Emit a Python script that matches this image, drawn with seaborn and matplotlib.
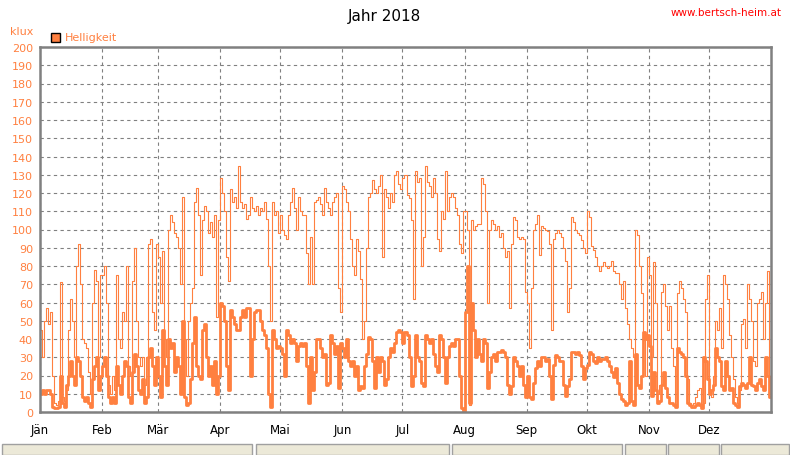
import numpy as np
import pandas as pd
import matplotlib
matplotlib.use("Agg")
import matplotlib.pyplot as plt
from matplotlib.patches import Rectangle
import seaborn as sns

# ---- data (klux), daily values ----
month_labels = ["Jän", "Feb", "Mär", "Apr", "Mai", "Jun", "Jul", "Aug", "Sep", "Okt", "Nov", "Dez"]
month_starts = [0, 31, 59, 90, 120, 151, 181, 212, 243, 273, 304, 334]

max_jan = [45, 30, 50, 57, 48, 55, 20, 5, 4, 6, 71, 8, 6, 12, 45, 62, 50, 30, 80, 92, 70, 40, 38, 35, 22, 10, 60, 78, 72, 30, 75]
max_feb = [75, 80, 60, 15, 10, 20, 12, 75, 40, 35, 55, 50, 80, 25, 20, 72, 90, 50, 30, 25, 30, 15, 30, 92, 95, 55, 45, 92]
max_mar = [85, 60, 88, 40, 30, 100, 108, 104, 98, 96, 90, 70, 118, 40, 20, 50, 60, 68, 115, 123, 108, 75, 105, 113, 110, 98, 104, 96, 108, 52, 105]
max_apr = [128, 120, 110, 85, 72, 122, 115, 118, 112, 135, 115, 112, 114, 106, 108, 118, 112, 110, 113, 108, 112, 110, 115, 106, 80, 50, 115, 108, 110, 98]
max_mai = [108, 100, 97, 95, 108, 115, 123, 112, 100, 118, 110, 108, 108, 87, 70, 96, 70, 115, 116, 118, 114, 108, 123, 115, 112, 108, 115, 118, 120, 68, 55]
max_jun = [124, 122, 115, 110, 95, 80, 75, 95, 88, 73, 40, 50, 90, 118, 120, 127, 122, 120, 124, 130, 85, 122, 118, 112, 120, 115, 130, 132, 125, 122]
max_jul = [128, 130, 119, 117, 105, 62, 132, 126, 128, 80, 96, 135, 126, 124, 118, 128, 120, 95, 88, 110, 106, 132, 110, 118, 120, 118, 112, 108, 92, 87, 110]
max_aug = [110, 100, 4, 105, 100, 102, 103, 103, 128, 125, 110, 60, 100, 105, 103, 100, 102, 96, 98, 90, 85, 88, 57, 92, 107, 105, 96, 95, 96, 95, 66]
max_sep = [60, 35, 68, 100, 103, 108, 86, 102, 101, 100, 99, 92, 45, 95, 98, 100, 98, 96, 90, 83, 55, 68, 107, 104, 100, 98, 97, 94, 90, 87]
max_okt = [110, 107, 91, 89, 85, 80, 77, 80, 82, 80, 79, 80, 83, 77, 76, 76, 70, 62, 72, 57, 48, 40, 35, 30, 100, 97, 80, 65, 44, 20, 85]
max_nov = [75, 30, 82, 60, 10, 15, 66, 70, 58, 45, 58, 35, 25, 4, 65, 72, 68, 62, 55, 18, 5, 4, 5, 8, 12, 13, 4, 5, 62, 75]
max_dez = [10, 8, 20, 50, 45, 57, 35, 75, 70, 62, 42, 30, 18, 8, 5, 12, 48, 51, 35, 70, 62, 50, 28, 25, 60, 62, 66, 40, 60, 77, 20]

avg_jan = [10, 12, 10, 12, 12, 10, 3, 2, 2, 3, 20, 5, 3, 15, 20, 28, 20, 15, 30, 28, 20, 8, 6, 8, 5, 3, 18, 25, 30, 12, 20]
avg_feb = [25, 30, 20, 8, 5, 8, 5, 25, 15, 10, 20, 28, 25, 8, 5, 22, 32, 25, 12, 10, 18, 5, 8, 30, 35, 25, 15, 30]
avg_mar = [20, 8, 45, 25, 15, 40, 35, 38, 22, 30, 25, 10, 50, 8, 4, 5, 18, 38, 52, 25, 20, 18, 45, 48, 30, 20, 25, 15, 28, 10, 20]
avg_apr = [60, 58, 50, 25, 12, 56, 52, 48, 45, 45, 52, 56, 52, 57, 57, 20, 40, 55, 56, 56, 50, 45, 42, 35, 10, 3, 45, 40, 35, 36]
avg_mai = [35, 32, 20, 45, 42, 38, 40, 38, 28, 36, 38, 36, 38, 25, 5, 30, 12, 22, 40, 40, 35, 30, 32, 15, 16, 42, 38, 32, 36, 13, 38]
avg_jun = [35, 30, 40, 28, 25, 28, 20, 25, 12, 14, 13, 25, 32, 41, 40, 28, 13, 30, 22, 30, 28, 15, 18, 30, 35, 33, 38, 44, 45, 44]
avg_jul = [38, 44, 42, 30, 14, 20, 42, 30, 28, 16, 14, 42, 40, 38, 40, 32, 25, 22, 42, 40, 30, 16, 30, 36, 38, 36, 40, 40, 20, 2, 0]
avg_aug = [55, 80, 5, 60, 45, 30, 40, 32, 28, 40, 38, 13, 22, 30, 32, 28, 33, 33, 34, 33, 30, 15, 10, 14, 30, 28, 25, 20, 25, 15, 8]
avg_sep = [20, 8, 7, 16, 24, 28, 25, 30, 30, 28, 29, 20, 7, 26, 31, 30, 28, 28, 15, 9, 14, 18, 33, 33, 32, 33, 31, 25, 18, 24]
avg_okt = [26, 33, 32, 28, 27, 30, 28, 29, 29, 30, 28, 25, 22, 19, 24, 16, 10, 7, 6, 4, 5, 28, 6, 4, 32, 15, 13, 20, 44, 40, 42]
avg_nov = [36, 9, 22, 12, 5, 6, 15, 22, 13, 8, 5, 5, 4, 3, 35, 33, 32, 30, 20, 5, 4, 3, 3, 4, 5, 4, 2, 30, 28, 18]
avg_dez = [10, 12, 15, 35, 30, 28, 14, 12, 28, 20, 12, 13, 5, 4, 3, 14, 16, 15, 13, 16, 30, 15, 14, 12, 16, 18, 14, 12, 30, 20, 8]

max_vals = (max_jan + max_feb + max_mar + max_apr + max_mai + max_jun +
            max_jul + max_aug + max_sep + max_okt + max_nov + max_dez)
avg_vals = (avg_jan + avg_feb + avg_mar + avg_apr + avg_mai + avg_jun +
            avg_jul + avg_aug + avg_sep + avg_okt + avg_nov + avg_dez)

df = pd.DataFrame({"day": np.arange(len(max_vals)) + 0.5,
                   "max": max_vals, "avg": avg_vals})

ORANGE = "#FF8040"
GRAY = "#808080"

sns.set_style("white")
plt.rcParams["font.family"] = ["DejaVu Sans"]

fig = plt.figure(figsize=(7.9, 4.56), dpi=100)
ax = fig.add_axes([40 / 790, 43 / 456, 731 / 790, 365 / 456])

sns.lineplot(data=df, x="day", y="max", ax=ax, color=ORANGE, linewidth=0.8,
             drawstyle="steps-mid")
sns.lineplot(data=df, x="day", y="avg", ax=ax, color=ORANGE, linewidth=2.0,
             drawstyle="steps-mid")

ax.set_xlim(0, 365)
ax.set_ylim(0, 200)
ax.set_xlabel("")
ax.set_ylabel("")

ax.set_yticks(np.arange(0, 201, 10))
ax.set_yticklabels([str(v) for v in range(0, 201, 10)], color=ORANGE, fontsize=8)
ax.set_xticks(month_starts)
ax.set_xticklabels(month_labels, color="black", fontsize=8.5)
ax.tick_params(axis="both", direction="out", length=3, width=1, color=GRAY, pad=2)
ax.tick_params(axis="x", pad=5)

ax.grid(True, which="major", color=GRAY, linestyle=(0, (3, 3)), linewidth=0.8)
ax.set_axisbelow(True)
for s in ax.spines.values():
    s.set_visible(True)
    s.set_color(GRAY)
    s.set_linewidth(1.8)

# titles and labels
fig.text(384 / 790, 1 - 16 / 456, "Jahr 2018", ha="center", va="center", fontsize=11, color="black")
fig.text(782 / 790, 1 - 13 / 456, "www.bertsch-heim.at", ha="right", va="center", fontsize=7.5, color="red")
fig.text(10 / 790, 1 - 32 / 456, "klux", ha="left", va="center", fontsize=8, color=ORANGE)
fig.patches.append(Rectangle((51 / 790, 1 - 43 / 456), 9 / 790, 9 / 456, transform=fig.transFigure,
                             facecolor=ORANGE, edgecolor="black", linewidth=1))
fig.text(65 / 790, 1 - 38 / 456, "Helligkeit", ha="left", va="center", fontsize=8, color=ORANGE)

# status-bar like boxes at the bottom
for x0, x1 in [(2, 252), (256, 449), (452, 622), (625, 666), (668, 719), (721, 789)]:
    fig.patches.append(Rectangle((x0 / 790, 0), (x1 - x0) / 790, 11 / 456, transform=fig.transFigure,
                                 facecolor="#ECE9D8", edgecolor="#A0A0A0", linewidth=1))

fig.savefig("out.png", dpi=100)
